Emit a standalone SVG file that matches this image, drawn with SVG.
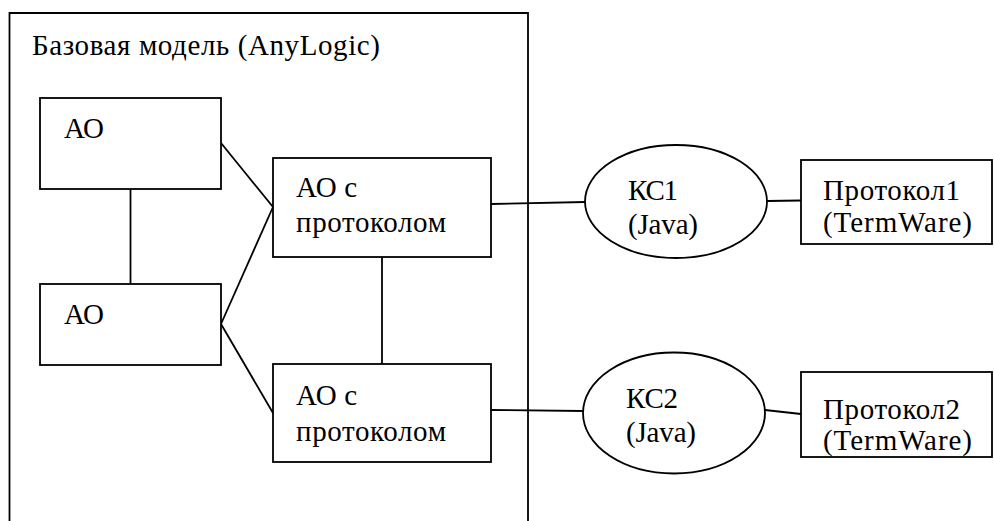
<svg xmlns="http://www.w3.org/2000/svg" width="994" height="521" viewBox="0 0 994 521">
<style>
.b{fill:#fff;stroke:#000;stroke-width:1.8}
.l{fill:none;stroke:#000;stroke-width:1.8}
text{font-family:'Liberation Serif','Times New Roman',serif;font-size:29px;fill:#000}
</style>
<rect width="994" height="521" fill="#fff"/>
<g id="base">
<path class="l" d="M9.5,530 V13 H528 V530"/>
<text x="32" y="55" textLength="348" lengthAdjust="spacing">Базовая модель (AnyLogic)</text>
</g>
<g id="connectors">
<line class="l" x1="130.5" y1="189" x2="130.5" y2="284"/>
<line class="l" x1="221" y1="143" x2="273" y2="207"/>
<line class="l" x1="221" y1="324" x2="273" y2="207"/>
<line class="l" x1="221" y1="324" x2="273" y2="413"/>
<line class="l" x1="382" y1="257" x2="382" y2="364"/>
<line class="l" x1="491" y1="204" x2="585" y2="202"/>
<line class="l" x1="491" y1="410" x2="583" y2="411"/>
<line class="l" x1="767" y1="201" x2="801" y2="200.5"/>
<line class="l" x1="765" y1="410" x2="801" y2="414"/>
</g>
<g id="ao1">
<rect class="b" x="40" y="98" width="181" height="91"/>
<text x="64" y="138" textLength="40" lengthAdjust="spacing">АО</text>
</g>
<g id="ao2">
<rect class="b" x="40" y="284" width="181" height="81"/>
<text x="64" y="324" textLength="40" lengthAdjust="spacing">АО</text>
</g>
<g id="aop1">
<rect class="b" x="273" y="158" width="218" height="99"/>
<text x="296" y="197" textLength="61" lengthAdjust="spacing">АО с</text>
<text x="296" y="232" textLength="150" lengthAdjust="spacing">протоколом</text>
</g>
<g id="aop2">
<rect class="b" x="273" y="364" width="218" height="98"/>
<text x="296" y="405" textLength="61" lengthAdjust="spacing">АО с</text>
<text x="296" y="441" textLength="150" lengthAdjust="spacing">протоколом</text>
</g>
<g id="ks1">
<ellipse class="b" cx="676" cy="201.5" rx="91" ry="56.5"/>
<text x="628" y="200" textLength="50" lengthAdjust="spacing">КС1</text>
<text x="628" y="234" textLength="70" lengthAdjust="spacing">(Java)</text>
</g>
<g id="ks2">
<ellipse class="b" cx="674" cy="413" rx="91" ry="60.5"/>
<text x="626" y="408" textLength="52" lengthAdjust="spacing">КС2</text>
<text x="626" y="442" textLength="70" lengthAdjust="spacing">(Java)</text>
</g>
<g id="p1">
<rect class="b" x="801" y="160" width="191" height="84"/>
<text x="823" y="200" textLength="137" lengthAdjust="spacing">Протокол1</text>
<text x="823" y="232" textLength="149" lengthAdjust="spacing">(TermWare)</text>
</g>
<g id="p2">
<rect class="b" x="801" y="372" width="191" height="85"/>
<text x="823" y="419" textLength="137" lengthAdjust="spacing">Протокол2</text>
<text x="823" y="450" textLength="149" lengthAdjust="spacing">(TermWare)</text>
</g>
</svg>
